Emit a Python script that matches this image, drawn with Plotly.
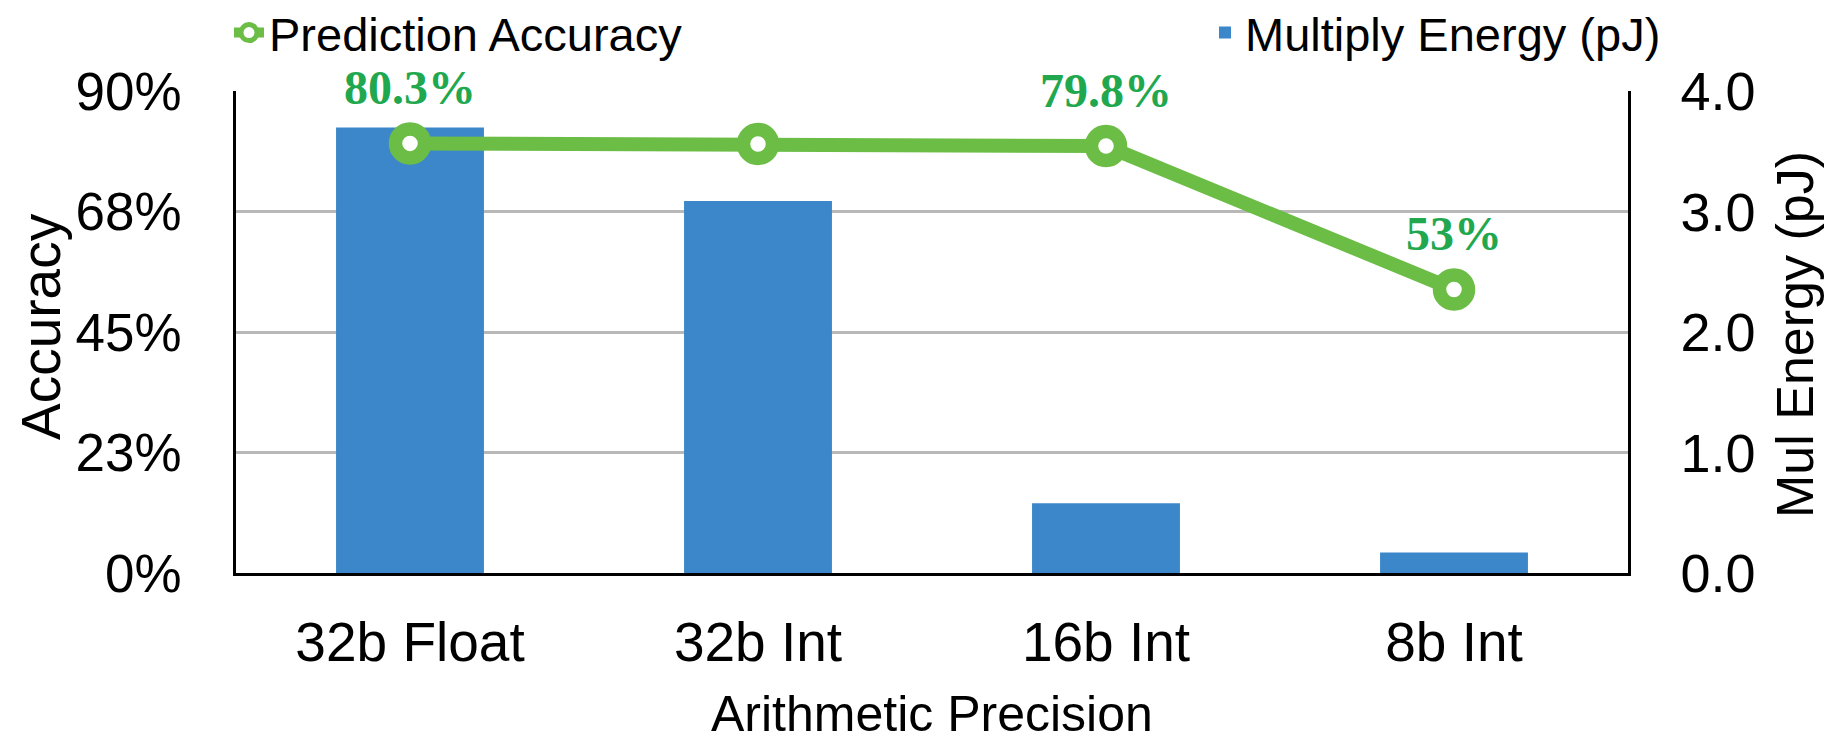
import plotly.graph_objects as go

# ---- data ----
categories = ["32b Float", "32b Int", "16b Int", "8b Int"]
energy_pj = [3.70, 3.09, 0.58, 0.17]
accuracy = [0.803, 0.802, 0.798, 0.53]
accuracy_labels = ["80.3%", "", "79.8%", "53%"]
acc_tickvals = [0, 0.225, 0.45, 0.675, 0.9]
acc_ticktext = ["0%", "23%", "45%", "68%", "90%"]
energy_tickvals = [0, 1, 2, 3, 4]

# ---- style ----
W, H = 1835, 742
SANS = "Liberation Sans, Arial, Helvetica, sans-serif"
SERIF = "Liberation Serif, Times New Roman, serif"
GREEN_LINE = "#6bbd45"
GREEN_TEXT = "#21a84f"
BAR_BLUE = "#3c87c9"
GRID = "#b8b8b8"

fig = go.Figure()

fig.add_trace(go.Bar(
    x=categories, y=energy_pj, yaxis="y",
    width=0.425,
    marker=dict(color=BAR_BLUE, line=dict(width=0)),
    name="Multiply Energy (pJ)", legend="legend2",
))

fig.add_trace(go.Scatter(
    x=categories, y=accuracy, yaxis="y2",
    mode="lines+markers",
    line=dict(color=GREEN_LINE, width=14),
    marker=dict(symbol="circle", size=29, color="white",
                line=dict(color=GREEN_LINE, width=13.5)),
    name="Prediction Accuracy", legend="legend",
))

annotations = []
for cat, val, lab in zip(categories, accuracy, accuracy_labels):
    if not lab:
        continue
    annotations.append(dict(
        x=cat, y=val, xref="x", yref="y2", text=lab, showarrow=False,
        yshift=56, xanchor="center", yanchor="middle",
        font=dict(family=SERIF, size=48, color=GREEN_TEXT, weight="bold"),
    ))

# axis titles
annotations += [
    dict(text="Accuracy", xref="paper", yref="paper", x=0, y=0.5,
         xshift=-195, yshift=5, textangle=-90, showarrow=False,
         xanchor="center", yanchor="middle", font=dict(size=55)),
    dict(text="Mul Energy (pJ)", xref="paper", yref="paper", x=1, y=0.5,
         xshift=167, yshift=-3, textangle=-90, showarrow=False,
         xanchor="center", yanchor="middle", font=dict(size=52)),
    dict(text="Arithmetic Precision", xref="paper", yref="paper", x=0.5, y=0,
         yshift=-141, showarrow=False,
         xanchor="center", yanchor="middle", font=dict(size=50)),
]

fig.update_layout(
    width=W, height=H,
    margin=dict(l=228, r=215, t=83, b=177, autoexpand=False),
    paper_bgcolor="white", plot_bgcolor="white",
    font=dict(family=SANS, color="black"),
    bargap=0.575,
    xaxis=dict(
        type="category", range=[-0.5, 3.5], automargin=False,
        showline=True, linecolor="black", linewidth=3,
        ticks="", showgrid=False, tickangle=0,
        tickfont=dict(size=55), ticklabelstandoff=19,
    ),
    yaxis=dict(
        range=[0, 4.004], side="right", tickvals=energy_tickvals, tickformat=".1f",
        automargin=False,
        showgrid=True, gridcolor=GRID, gridwidth=2.5, zeroline=False,
        showline=True, linecolor="black", linewidth=2.5, ticks="",
        tickfont=dict(size=54), ticklabelstandoff=39,
    ),
    yaxis2=dict(
        range=[0, 0.9009], side="left", overlaying="y", automargin=False,
        tickvals=acc_tickvals, ticktext=acc_ticktext,
        showgrid=False, zeroline=False,
        showline=True, linecolor="black", linewidth=2.5, ticks="",
        tickfont=dict(size=53), ticklabelstandoff=41,
    ),
    legend=dict(
        x=221 / W, xref="container", y=1 - 25 / H, yref="container",
        xanchor="left", yanchor="middle", font=dict(size=47),
        bgcolor="rgba(0,0,0,0)", itemsizing="trace",
    ),
    legend2=dict(
        x=1197 / W, xref="container", y=1 - 25 / H, yref="container",
        xanchor="left", yanchor="middle", font=dict(size=47),
        bgcolor="rgba(0,0,0,0)", itemsizing="trace",
    ),
    annotations=annotations,
    showlegend=True,
)

fig.write_html("out.html")
